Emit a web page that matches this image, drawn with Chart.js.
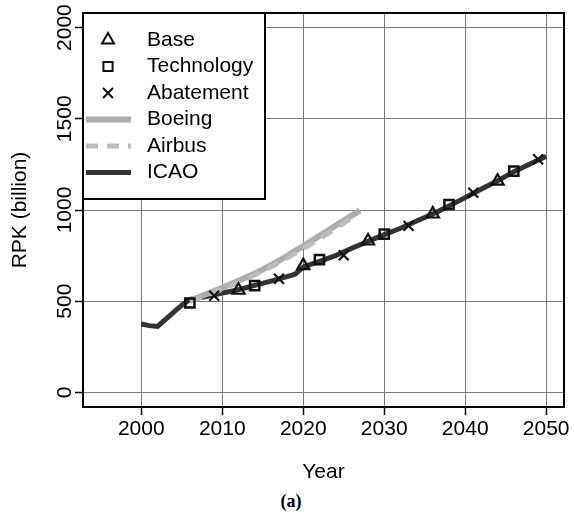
<!DOCTYPE html>
<html>
<head>
<meta charset="utf-8">
<script src="https://cdn.jsdelivr.net/npm/chart.js@4"></script>
<style>
  body { margin: 0; background: #fff; }
  #wrap { position: relative; width: 574px; height: 516px; }
  #caption {
    position: absolute; left: 4px; width: 574px; top: 491px;
    text-align: center; font: bold 18px "Liberation Serif", "DejaVu Serif", serif;
  }
</style>
</head>
<body>
<div id="wrap">
  <canvas id="rpkChart" width="574" height="490"></canvas>
  <div id="caption">(a)</div>
</div>
<script>
// ICAO history (2000-2006) and its forecast out to 2050
var icaoYears = [2000, 2001, 2002, 2003, 2004, 2005, 2006, 2008, 2010, 2012, 2014, 2016, 2018, 2019,
                 2020, 2022, 2024, 2026, 2028, 2030, 2032, 2034, 2036, 2038, 2040, 2042, 2044, 2046, 2048, 2050];
var icaoRpk = [375, 366, 362, 400, 440, 478, 510, 525, 545, 563, 587, 610, 635, 648,
               688, 718, 750, 790, 828, 865, 900, 940, 978, 1022, 1068, 1115, 1160, 1210, 1252, 1295];

// manufacturer forecasts
var boeingYears = [2006, 2008, 2010, 2012, 2014, 2016, 2018, 2020, 2022, 2024, 2026, 2027];
var boeingRpk = [503, 538, 574, 612, 652, 698, 748, 803, 858, 915, 970, 998];
var airbusYears = [2006, 2008, 2010, 2012, 2014, 2016, 2018, 2020, 2022, 2024, 2026];
var airbusRpk = [500, 532, 566, 604, 644, 688, 736, 788, 842, 898, 958];

// scenario runs (marker years only)
var baseYears = [2012, 2020, 2028, 2036, 2044];
var baseRpk = [560, 695, 830, 978, 1158];
var techYears = [2006, 2014, 2022, 2030, 2038, 2046];
var techRpk = [490, 585, 728, 868, 1030, 1213];
var abateYears = [2009, 2017, 2025, 2033, 2041, 2049];
var abateRpk = [530, 623, 752, 913, 1095, 1278];

var yearTicks = [2000, 2010, 2020, 2030, 2040, 2050];
var rpkTicks = [0, 500, 1000, 1500, 2000];

function pts(xs, ys) {
    return xs.map(function(x, i) { return { x: x, y: ys[i] }; });
}

var FONT = '"Liberation Sans", Arial, sans-serif';

// legend box in the top-left corner + the frame round the plot
var boxLegend = {
    id: 'boxLegend',
    afterDraw: function(chart) {
        var ctx = chart.ctx, a = chart.chartArea;
        var x0 = a.left, y0 = a.top;
        ctx.save();
        ctx.fillStyle = '#fff';
        ctx.fillRect(x0, y0, 182, 186);
        ctx.strokeStyle = '#000';
        ctx.lineWidth = 2;
        ctx.strokeRect(x0, y0, 182, 186);
        ctx.font = '21px ' + FONT;
        ctx.textBaseline = 'middle';
        chart.data.datasets.forEach(function(ds, i) {
            var y = y0 + 27 + i * 26.5;
            ctx.save();
            if (ds.showLine === false) {
                ctx.strokeStyle = ds.borderColor;
                ctx.fillStyle = 'rgba(0,0,0,0)';
                Chart.helpers.drawPoint(ctx, {
                    pointStyle: ds.pointStyle, radius: ds.pointRadius,
                    borderWidth: ds.borderWidth, rotation: 0
                }, x0 + 25, y);
            } else {
                ctx.strokeStyle = ds.borderColor;
                ctx.lineWidth = ds.borderWidth;
                ctx.setLineDash(ds.borderDash || []);
                ctx.beginPath();
                ctx.moveTo(x0 + 3, y);
                ctx.lineTo(x0 + 48, y);
                ctx.stroke();
            }
            ctx.restore();
            ctx.fillStyle = '#000';
            ctx.fillText(ds.label, x0 + 64, y);
        });
        ctx.strokeRect(a.left, a.top, a.right - a.left, a.bottom - a.top);
        ctx.restore();
    }
};

var gridStyle = {
    color: '#7a7a7a',
    lineWidth: 1,
    borderDash: [1, 2],
    tickColor: '#000',
    tickWidth: 1.5,
    tickBorderDash: [],
    tickLength: 8
};

new Chart(document.getElementById('rpkChart'), {
    type: 'line',
    data: {
        datasets: [
            { label: 'Base', data: pts(baseYears, baseRpk), showLine: false,
              pointStyle: 'triangle', pointRadius: 7, borderColor: '#111', borderWidth: 2.2,
              backgroundColor: 'rgba(0,0,0,0)', order: 0 },
            { label: 'Technology', data: pts(techYears, techRpk), showLine: false,
              pointStyle: 'rect', pointRadius: 6.5, borderColor: '#111', borderWidth: 2.5,
              backgroundColor: 'rgba(0,0,0,0)', order: 0 },
            { label: 'Abatement', data: pts(abateYears, abateRpk), showLine: false,
              pointStyle: 'crossRot', pointRadius: 7, borderColor: '#111', borderWidth: 2.2,
              backgroundColor: 'rgba(0,0,0,0)', order: 0 },
            { label: 'Boeing', data: pts(boeingYears, boeingRpk), borderColor: '#adadad',
              borderWidth: 6, pointRadius: 0, tension: 0.2, order: 2 },
            { label: 'Airbus', data: pts(airbusYears, airbusRpk), borderColor: '#bdbdbd',
              borderWidth: 5, borderDash: [12, 9], pointRadius: 0, tension: 0.2, order: 1 },
            { label: 'ICAO', data: pts(icaoYears, icaoRpk), borderColor: '#333',
              borderWidth: 5, pointRadius: 0, order: 3 }
        ]
    },
    options: {
        responsive: false,
        animation: false,
        layout: { padding: { top: 13, right: 10, left: 0, bottom: 0 } },
        plugins: { legend: { display: false }, tooltip: { enabled: false } },
        scales: {
            x: {
                type: 'linear',
                min: 1992.8,
                max: 2052.2,
                afterBuildTicks: function(s) { s.ticks = yearTicks.map(function(v) { return { value: v }; }); },
                afterFit: function(s) { s.height = 83; },
                grid: gridStyle,
                border: { display: false },
                ticks: { color: '#000', font: { family: FONT, size: 21 }, padding: 2,
                          maxRotation: 0, callback: function(v) { return String(v); } },
                title: { display: true, text: 'Year', color: '#000',
                         font: { family: FONT, size: 21 }, padding: { top: 0, bottom: 5 } }
            },
            y: {
                min: -80,
                max: 2080,
                afterBuildTicks: function(s) { s.ticks = rpkTicks.map(function(v) { return { value: v }; }); },
                afterFit: function(s) { s.width = 83; },
                grid: gridStyle,
                border: { display: false },
                ticks: { color: '#000', font: { family: FONT, size: 21 }, padding: -14,
                         minRotation: 90, maxRotation: 90, crossAlign: 'center',
                         callback: function(v) { return String(v); } },
                title: { display: true, text: 'RPK (billion)', color: '#000',
                         font: { family: FONT, size: 21 }, padding: { top: 8, bottom: 0 } }
            }
        }
    },
    plugins: [boxLegend]
});
</script>
</body>
</html>
